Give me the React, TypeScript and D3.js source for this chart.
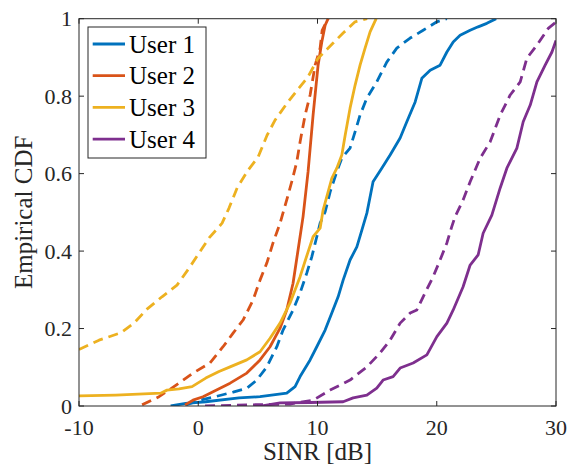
import React from "react";
import * as d3 from "d3";

// Empirical CDF curves of the SINR per user: [SINR in dB, CDF]
const user1Solid: [number, number][] = [
  [-2.31, 0], [-1.05, 0.007], [0.63, 0.011], [3.42, 0.021], [5.18, 0.024], [7.42, 0.033],
  [8.12, 0.05], [8.54, 0.076], [9.38, 0.119], [9.94, 0.153], [10.64, 0.196], [11.2, 0.24],
  [11.73, 0.282], [12.15, 0.325], [12.73, 0.377], [13.3, 0.411], [13.72, 0.454], [14.14, 0.498],
  [14.66, 0.579], [15.39, 0.614], [16.09, 0.648], [16.93, 0.692], [17.49, 0.734], [18.19, 0.785],
  [18.75, 0.846], [19.45, 0.867], [20.28, 0.88], [20.85, 0.914], [21.38, 0.94], [21.96, 0.957],
  [22.8, 0.97], [23.47, 0.979], [24.2, 0.988], [24.98, 1],
];
const user1Dashed: [number, number][] = [
  [-1.02, 0.003], [0.15, 0.015], [1.41, 0.024], [2.92, 0.036], [4.07, 0.046], [4.91, 0.067],
  [5.75, 0.101], [6.59, 0.153], [7.11, 0.196], [7.95, 0.248], [8.54, 0.292], [9.1, 0.343],
  [9.52, 0.385], [9.94, 0.437], [10.22, 0.472], [10.64, 0.501], [11.06, 0.553], [11.62, 0.605],
  [12.04, 0.64], [12.73, 0.666], [13.15, 0.708], [13.57, 0.751], [14.14, 0.795], [14.97, 0.837],
  [15.81, 0.888], [16.65, 0.924], [17.77, 0.95], [18.86, 0.97], [20.01, 0.992], [20.85, 1],
];
const user2Solid: [number, number][] = [
  [-1.11, 0.003], [-0.44, 0.015], [0.4, 0.024], [1.24, 0.037], [2.67, 0.059], [4.07, 0.085],
  [5.18, 0.119], [6.02, 0.153], [6.86, 0.201], [7.42, 0.248], [7.95, 0.317], [8.37, 0.403],
  [8.79, 0.489], [9.21, 0.605], [9.63, 0.751], [10.05, 0.88], [10.36, 0.94], [10.64, 0.983],
  [10.89, 1],
];
const user2Dashed: [number, number][] = [
  [-4.71, 0.003], [-3.29, 0.024], [-1.61, 0.059], [-0.44, 0.085], [0.99, 0.111], [2.08, 0.153],
  [2.92, 0.188], [3.76, 0.222], [4.6, 0.274], [5.18, 0.325], [5.75, 0.369], [6.27, 0.421],
  [6.86, 0.472], [7.42, 0.532], [7.84, 0.579], [8.26, 0.63], [8.54, 0.682], [8.96, 0.751],
  [9.38, 0.803], [9.8, 0.88], [10.22, 0.924], [10.39, 0.97], [10.89, 1],
];
const user3Solid: [number, number][] = [
  [-10, 0.026], [-6.92, 0.028], [-3.15, 0.033], [-2.62, 0.041], [-1.61, 0.044], [-0.52, 0.05],
  [0.63, 0.072], [1.74, 0.089], [2.67, 0.101], [4.07, 0.119], [5.18, 0.14], [6.02, 0.175],
  [6.86, 0.214], [7.7, 0.266], [8.54, 0.334], [9.21, 0.398], [9.63, 0.437], [10.22, 0.459],
  [10.47, 0.506], [11.2, 0.588], [11.62, 0.614], [12.04, 0.648], [12.32, 0.699], [12.73, 0.769],
  [13.15, 0.828], [13.57, 0.88], [13.99, 0.924], [14.41, 0.966], [14.92, 1],
];
const user3Dashed: [number, number][] = [
  [-10, 0.146], [-8.32, 0.17], [-6.5, 0.189], [-5.39, 0.214], [-4.3, 0.25], [-3.04, 0.282],
  [-1.78, 0.312], [-0.77, 0.356], [0.07, 0.395], [0.91, 0.434], [2.0, 0.472], [2.58, 0.511],
  [3.26, 0.563], [4.18, 0.609], [5.02, 0.643], [5.77, 0.699], [6.44, 0.738], [7.45, 0.782],
  [8.29, 0.815], [9.21, 0.85], [10.05, 0.898], [11.31, 0.937], [12.15, 0.963], [13.15, 0.992],
  [14.16, 1],
];
const user4Solid: [number, number][] = [
  [5.35, 0], [6.86, 0.008], [9.38, 0.009], [12.15, 0.011], [12.99, 0.021], [14.14, 0.028],
  [14.97, 0.046], [15.5, 0.067], [16.34, 0.076], [16.93, 0.098], [18.02, 0.111], [19.17, 0.132],
  [20.01, 0.179], [20.85, 0.214], [21.38, 0.248], [22.21, 0.308], [22.8, 0.364], [23.47, 0.39],
  [23.89, 0.446], [24.62, 0.493], [25.32, 0.563], [25.88, 0.614], [26.72, 0.666], [27.25, 0.734],
  [27.84, 0.777], [28.4, 0.837], [29.09, 0.88], [29.66, 0.914], [30, 0.944],
];
const user4Dashed: [number, number][] = [
  [0.57, 0], [4.35, 0.003], [7.7, 0.005], [9.63, 0.015], [11.06, 0.041], [12.73, 0.067],
  [14.14, 0.101], [15.25, 0.137], [16.09, 0.17], [16.93, 0.214], [17.77, 0.24], [18.33, 0.248],
  [18.86, 0.282], [19.7, 0.334], [20.28, 0.377], [20.85, 0.421], [21.26, 0.463], [21.54, 0.489],
  [22.21, 0.532], [22.8, 0.579], [23.64, 0.64], [24.48, 0.682], [25.32, 0.751], [26.16, 0.803],
  [27.0, 0.837], [27.56, 0.898], [28.4, 0.932], [29.35, 0.975], [30, 0.991],
];

const userNames = ["User 1", "User 2", "User 3", "User 4"];
const userColors = ["#0072BD", "#D95319", "#EDB120", "#7E2F8E"];
const solidCurves = [user1Solid, user2Solid, user3Solid, user4Solid];
const dashedCurves = [user1Dashed, user2Dashed, user3Dashed, user4Dashed];

const xTicks = [-10, 0, 10, 20, 30];
const yTicks = [0, 0.2, 0.4, 0.6, 0.8, 1];
const yTickLabels = ["0", "0.2", "0.4", "0.6", "0.8", "1"];
const xLabel = "SINR [dB]";
const yLabel = "Empirical CDF";

const W = 567;
const H = 471;
const left = 79;
const right = 556;
const top = 18.7;
const bottom = 406;
const font =
  "'Liberation Serif', 'DejaVu Serif', 'Noto Serif', 'Tinos', 'Nimbus Roman', 'FreeSerif', 'Times New Roman', Times, serif";
const axisColor = "#262626";

export default function App() {
  const x = d3.scaleLinear().domain([-10, 30]).range([left, right]);
  const y = d3.scaleLinear().domain([0, 1]).range([bottom, top]);
  const line = d3
    .line<[number, number]>()
    .x((d) => x(d[0]))
    .y((d) => y(d[1]));

  const tickLen = 5;

  return (
    <svg
      width={W}
      height={H}
      viewBox={`0 0 ${W} ${H}`}
      style={{ position: "absolute", left: 0, top: 0, background: "#fff", fontFamily: font }}
    >
      <rect x={0} y={0} width={W} height={H} fill="#fff" />
      <defs>
        <clipPath id="plot-area">
          <rect x={left} y={top} width={right - left} height={bottom - top} />
        </clipPath>
      </defs>

      {/* curves */}
      <g clipPath="url(#plot-area)" fill="none" strokeLinejoin="round">
        {userColors.map((c, i) => (
          <g key={i}>
            <path d={line(solidCurves[i]) || ""} stroke={c} strokeWidth={2.8} />
            <path
              d={line(dashedCurves[i]) || ""}
              stroke={c}
              strokeWidth={2.8}
              strokeDasharray="10,6"
            />
          </g>
        ))}
      </g>

      {/* axes box and ticks */}
      <rect
        x={left}
        y={top}
        width={right - left}
        height={bottom - top}
        fill="none"
        stroke={axisColor}
        strokeWidth={1}
      />
      {xTicks.map((t) => (
        <g key={`xt${t}`} stroke={axisColor} strokeWidth={1}>
          <line x1={x(t)} x2={x(t)} y1={bottom} y2={bottom - tickLen} />
          <line x1={x(t)} x2={x(t)} y1={top} y2={top + tickLen} />
        </g>
      ))}
      {yTicks.map((t) => (
        <g key={`yt${t}`} stroke={axisColor} strokeWidth={1}>
          <line x1={left} x2={left + tickLen} y1={y(t)} y2={y(t)} />
          <line x1={right} x2={right - tickLen} y1={y(t)} y2={y(t)} />
        </g>
      ))}

      {/* tick labels */}
      <g style={{ fontFamily: font }} fontSize={22} fill={axisColor}>
        {xTicks.map((t) => (
          <text key={`xl${t}`} x={x(t)} y={435} textAnchor="middle">
            {String(t)}
          </text>
        ))}
        {yTicks.map((t, i) => (
          <text key={`yl${t}`} x={72} y={y(t) + 7.5} textAnchor="end">
            {yTickLabels[i]}
          </text>
        ))}
      </g>

      {/* axis labels */}
      <text
        x={(left + right) / 2}
        y={460}
        textAnchor="middle"
        style={{ fontFamily: font }}
        fontSize={25}
        fill={axisColor}
      >
        {xLabel}
      </text>
      <text
        transform={`translate(32, ${(top + bottom) / 2}) rotate(-90)`}
        textAnchor="middle"
        style={{ fontFamily: font }}
        fontSize={25}
        fill={axisColor}
      >
        {yLabel}
      </text>

      {/* legend */}
      <g>
        <rect x={88} y={27} width={118} height={131} fill="#fff" stroke={axisColor} strokeWidth={1} />
        {userNames.map((name, i) => {
          const cy = 44 + i * 31.7;
          return (
            <g key={name}>
              <line x1={92.7} x2={125} y1={cy} y2={cy} stroke={userColors[i]} strokeWidth={2.8} />
              <text
                x={129}
                y={cy + 8.5}
                style={{ fontFamily: font }}
                fontSize={25}
                fill="#000"
              >
                {name}
              </text>
            </g>
          );
        })}
      </g>
    </svg>
  );
}
